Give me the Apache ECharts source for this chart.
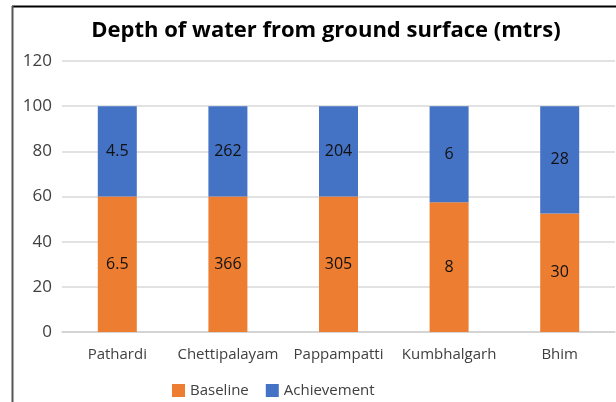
<!DOCTYPE html>
<html>
<head>
<meta charset="utf-8">
<script src="https://cdn.jsdelivr.net/npm/echarts@6/dist/echarts.min.js"></script>
<style>
  html, body { margin: 0; padding: 0; background: #fff; }
  #myChart { width: 616px; height: 402px; }
</style>
</head>
<body>
<div id="myChart"></div>
<script>
const categories = ["Pathardi", "Chettipalayam", "Pappampatti", "Kumbhalgarh", "Bhim"];
// bar heights
const baselineHeight = [60, 60, 60, 57.5, 52.5];
const achievementHeight = [40, 40, 40, 42.5, 47.5];
// numbers printed inside the bars
const baselineLabel = ["6.5", "366", "305", "8", "30"];
const achievementLabel = ["4.5", "262", "204", "6", "28"];
const yTicks = [0, 20, 40, 60, 80, 100, 120];

const font = "Open Sans";
let myChart = echarts.init(document.getElementById("myChart"));
myChart.setOption({
  animation: false,
  title: {
    text: "Depth of water from ground surface (mtrs)",
    left: 321,
    textAlign: "center",
    top: 15,
    textStyle: { fontFamily: font, fontWeight: "bold", fontSize: 22, color: "#000" }
  },
  legend: {
    data: ["Baseline", "Achievement"],
    top: 378,
    left: 167,
    itemWidth: 13,
    itemHeight: 13,
    itemGap: 17,
    icon: "rect",
    textStyle: { fontFamily: font, fontSize: 15, color: "#404040" }
  },
  grid: { left: 62, right: 1, top: 61, bottom: 70 },
  xAxis: {
    type: "category",
    data: categories,
    axisTick: { show: false },
    axisLine: { lineStyle: { color: "#d0d0d0", width: 1.5 } },
    axisLabel: { fontFamily: font, fontSize: 15, color: "#404040", margin: 15, interval: 0 }
  },
  yAxis: {
    type: "value",
    min: yTicks[0],
    max: yTicks[yTicks.length - 1],
    interval: 20,
    axisLine: { show: false },
    axisTick: { show: false },
    splitLine: { lineStyle: { color: "#d9d9d9", width: 1.5 } },
    axisLabel: { fontFamily: font, fontSize: 17, color: "#404040", margin: 10 }
  },
  series: [
    {
      name: "Baseline",
      type: "bar",
      stack: "total",
      barWidth: 39,
      itemStyle: { color: "#ED7D31" },
      data: baselineHeight,
      label: {
        show: true,
        position: "inside",
        fontFamily: font,
        fontSize: 16,
        color: "#111",
        formatter: p => baselineLabel[p.dataIndex]
      }
    },
    {
      name: "Achievement",
      type: "bar",
      stack: "total",
      barWidth: 39,
      itemStyle: { color: "#4472C4" },
      data: achievementHeight,
      label: {
        show: true,
        position: "inside",
        fontFamily: font,
        fontSize: 16,
        color: "#111",
        formatter: p => achievementLabel[p.dataIndex]
      }
    }
  ],
  graphic: [
    { type: "line", shape: { x1: 12, y1: 6.5, x2: 616, y2: 6.5 }, style: { stroke: "#000", lineWidth: 2 } },
    { type: "line", shape: { x1: 12.5, y1: 6, x2: 12.5, y2: 402 }, style: { stroke: "#555", lineWidth: 2 } }
  ]
});
</script>
</body>
</html>
